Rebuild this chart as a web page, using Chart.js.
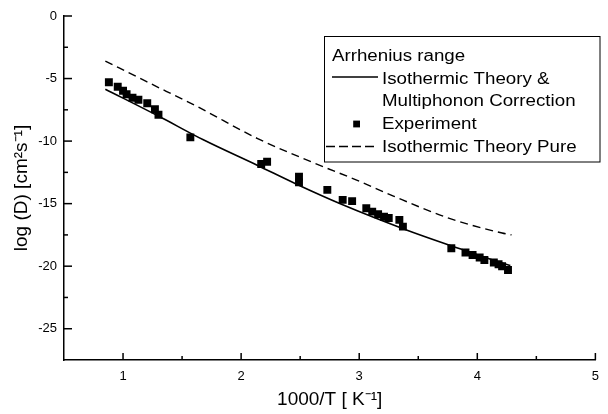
<!DOCTYPE html>
<html><head><meta charset="utf-8">
<script src="https://cdn.jsdelivr.net/npm/chart.js@4"></script>
<style>html,body{margin:0;padding:0;background:#fff}#wrap{width:608px;height:414px}</style>
</head><body><div id="wrap"><canvas id="c" width="608" height="414"></canvas></div>
<script>
// ---- data ----
const expX = [0.88, 0.955, 1.0, 1.03, 1.08, 1.13, 1.205, 1.27, 1.30, 1.57, 2.17, 2.22, 2.49, 2.49, 2.73, 2.86, 2.94, 3.06, 3.11, 3.16, 3.21, 3.25, 3.34, 3.37, 3.78, 3.90, 3.96, 4.02, 4.06, 4.14, 4.18, 4.21, 4.26];
const expY = [-5.3, -5.65, -5.97, -6.26, -6.53, -6.7, -6.98, -7.46, -7.9, -9.7, -11.83, -11.65, -12.84, -13.3, -13.9, -14.7, -14.8, -15.37, -15.64, -15.85, -16.05, -16.15, -16.3, -16.84, -18.57, -18.9, -19.1, -19.3, -19.5, -19.7, -19.85, -20.0, -20.3];
const corrX = [0.85, 1.3, 1.68, 2.14, 2.47, 2.85, 3.4, 3.79, 4.21, 4.28];
const corrY = [-5.85, -8.0, -9.9, -11.95, -13.45, -15.05, -17.1, -18.4, -19.75, -19.95];
const pureX = [0.85, 1.2, 1.63, 2.14, 2.63, 3.0, 3.29, 3.77, 4.21, 4.29];
const pureY = [-3.6, -5.25, -7.25, -9.8, -11.8, -13.2, -14.4, -16.2, -17.35, -17.5];
const xTicks = [1, 2, 3, 4, 5];
const xMinorTicks = [1.5, 2.5, 3.5, 4.5];
const yTicks = [0, -5, -10, -15, -20, -25];
const yMinorTicks = [-2.5, -7.5, -12.5, -17.5, -22.5];
const legendTitle = 'Arrhenius range';
const legendLabels = ['Isothermic Theory &', 'Multiphonon Correction', 'Experiment', 'Isothermic Theory Pure'];
const xTitle = '1000/T [ K\u207B\u00B9]';
const yTitle = 'log (D) [cm\u00B2s\u207B\u00B9]';

const FONT = "'Liberation Sans', Arial, sans-serif";
const pts = (xs, ys) => xs.map((x, i) => ({x, y: ys[i]}));

const inTicks = {
  id: 'inTicks',
  afterDraw(chart) {
    const {ctx, chartArea: a} = chart;
    const xs = chart.scales.x, ys = chart.scales.y;
    ctx.save();
    ctx.strokeStyle = '#000';
    ctx.lineWidth = 1.5;
    const seg = (x1, y1, x2, y2) => { ctx.beginPath(); ctx.moveTo(x1, y1); ctx.lineTo(x2, y2); ctx.stroke(); };
    xTicks.forEach(v => { const p = xs.getPixelForValue(v); seg(p, a.bottom, p, a.bottom - 7); });
    xMinorTicks.forEach(v => { const p = xs.getPixelForValue(v); seg(p, a.bottom, p, a.bottom - 4); });
    yTicks.forEach(v => { const p = ys.getPixelForValue(v); seg(a.left, p, a.left + 8, p); });
    yMinorTicks.forEach(v => { const p = ys.getPixelForValue(v); seg(a.left, p, a.left + 4, p); });
    ctx.restore();
  }
};

const boxLegend = {
  id: 'boxLegend',
  afterDraw(chart) {
    const ctx = chart.ctx;
    const ds = chart.data.datasets;
    const L = 324.5, T = 36.5, R = 600, B = 162;
    ctx.save();
    ctx.fillStyle = '#fff';
    ctx.fillRect(L, T, R - L, B - T);
    ctx.strokeStyle = '#000';
    ctx.lineWidth = 1;
    ctx.strokeRect(L, T, R - L, B - T);
    ctx.font = '16px ' + FONT;
    ctx.fillStyle = '#000';
    ctx.textBaseline = 'alphabetic';
    const base = [61, 83.7, 106.4, 129.1, 151.8];
    const txt = (t, x, y) => { ctx.save(); ctx.translate(x, y); ctx.scale(1.17, 1); ctx.fillText(t, 0, 0); ctx.restore(); };
    txt(legendTitle, 332, base[0]);
    legendLabels.forEach((t, i) => txt(t, 382, base[i + 1]));
    // solid sample
    ctx.strokeStyle = ds[0].borderColor; ctx.lineWidth = ds[0].borderWidth;
    ctx.beginPath(); ctx.moveTo(332, 77); ctx.lineTo(378, 77); ctx.stroke();
    // marker sample
    ctx.fillStyle = ds[1].backgroundColor;
    ctx.fillRect(353.2, 120.6, 6.8, 6.8);
    // dashed sample
    ctx.strokeStyle = ds[2].borderColor; ctx.lineWidth = ds[2].borderWidth;
    ctx.setLineDash([9, 4]);
    ctx.beginPath(); ctx.moveTo(326, 146.5); ctx.lineTo(378, 146.5); ctx.stroke();
    ctx.restore();
  }
};

new Chart(document.getElementById('c'), {
  type: 'line',
  data: {
    datasets: [
      { label: legendLabels[0] + ' ' + legendLabels[1], data: pts(corrX, corrY), borderColor: '#000', borderWidth: 1.6,
        pointRadius: 0, fill: false, cubicInterpolationMode: 'monotone', order: 2 },
      { label: legendLabels[2], data: pts(expX, expY), showLine: false, pointStyle: 'rect', pointRadius: 5.6,
        backgroundColor: '#000', borderColor: '#000', borderWidth: 0, order: 1 },
      { label: legendLabels[3], data: pts(pureX, pureY), borderColor: '#000', borderWidth: 1.4, borderDash: [8, 5],
        pointRadius: 0, fill: false, cubicInterpolationMode: 'monotone', order: 3 }
    ]
  },
  options: {
    responsive: false, animation: false, devicePixelRatio: 1,
    layout: { padding: { top: 16, right: 3, left: 0, bottom: 0 } },
    plugins: { legend: { display: false }, tooltip: { enabled: false } },
    scales: {
      x: {
        type: 'linear', min: 0.5, max: 5,
        afterBuildTicks: s => { s.ticks = xTicks.map(v => ({value: v})); },
        afterFit: s => { s.height = 54; },
        ticks: { color: '#000', font: { family: FONT, size: 13 }, padding: 9, maxRotation: 0, autoSkip: false },
        grid: { display: false, drawTicks: false },
        border: { display: true, color: '#000', width: 1.5 },
        title: { display: true, text: xTitle, color: '#000', font: { family: FONT, size: 19 }, padding: { top: 0, bottom: 3 } }
      },
      y: {
        type: 'linear', min: -27.5, max: 0,
        afterBuildTicks: s => { s.ticks = yTicks.map(v => ({value: v})); },
        afterFit: s => { s.width = 64; },
        ticks: { color: '#000', font: { family: FONT, size: 13 }, padding: 7 },
        grid: { display: false, drawTicks: false },
        border: { display: true, color: '#000', width: 1.5 },
        title: { display: true, text: yTitle, color: '#000', font: { family: FONT, size: 19 }, padding: { top: 10, bottom: 0 } }
      }
    }
  },
  plugins: [inTicks, boxLegend]
});
</script>
</body></html>
